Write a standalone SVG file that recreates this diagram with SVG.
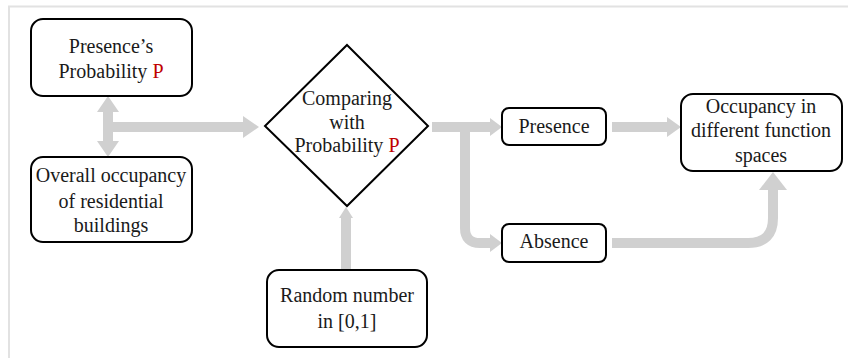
<svg xmlns="http://www.w3.org/2000/svg" width="848" height="358" viewBox="0 0 848 358">
<style>
.box{fill:#fff;stroke:#000;stroke-width:2}
.t{font-family:'Liberation Serif','Tinos','Times New Roman','DejaVu Serif',serif;font-size:20px;fill:#1a1a1a;text-anchor:middle}
.r{fill:#c00000}
.sh{fill:none;stroke:#d0d0d0;stroke-width:10}
.hd{fill:#d0d0d0}
</style>
<rect width="848" height="358" fill="#fff"/>
<path d="M9,358 V6.5 H848" fill="none" stroke="#e2e2e2" stroke-width="2"/>
<g id="connectors">
<path class="sh" d="M108,110 V143"/>
<polygon class="hd" points="108,96 97,112 119,112"/>
<polygon class="hd" points="108,157 97,141 119,141"/>
<path class="sh" d="M108,127 H244"/>
<polygon class="hd" points="259,127 243,116 243,138"/>
<path class="sh" d="M432,127 H492" stroke-width="9"/>
<polygon class="hd" points="502,127 490,118 490,136"/>
<path class="sh" d="M465,127 V228 Q465,243 480,243 H492"/>
<polygon class="hd" points="502,243 490,234 490,252"/>
<path class="sh" d="M612,127 H668"/>
<polygon class="hd" points="681,127 667,117 667,137"/>
<path class="sh" d="M612,243 H748 Q773,243 773,218 V189" stroke-width="12"/>
<polygon class="hd" points="773,172 759,190 787,190"/>
<path class="sh" d="M346,270 V217" stroke-width="8"/>
<polygon class="hd" points="346,207 339,218 353,218"/>
</g>
<g id="presence-probability">
<rect class="box" x="31" y="19" width="161" height="77" rx="12"/>
<text class="t" x="111" y="53" font-family="Liberation Serif, DejaVu Serif, serif">Presence’s</text>
<text class="t" x="111" y="78" font-family="Liberation Serif, DejaVu Serif, serif">Probability <tspan class="r">P</tspan></text>
</g>
<g id="overall-occupancy">
<rect class="box" x="31" y="157" width="161" height="85" rx="12"/>
<text class="t" x="111" y="182">Overall occupancy</text>
<text class="t" x="111" y="208">of residential</text>
<text class="t" x="111" y="232">buildings</text>
</g>
<g id="comparing">
<polygon class="box" points="347,45 428,126 347,206 265,126"/>
<text class="t" x="347" y="105">Comparing</text>
<text class="t" x="347" y="129">with</text>
<text class="t" x="347" y="152">Probability <tspan class="r">P</tspan></text>
</g>
<g id="random-number">
<rect class="box" x="267" y="270" width="160" height="77" rx="12"/>
<text class="t" x="347" y="302">Random number</text>
<text class="t" x="347" y="328">in [0,1]</text>
</g>
<g id="presence">
<rect class="box" x="502" y="108" width="104" height="37" rx="7"/>
<text class="t" x="554" y="133">Presence</text>
</g>
<g id="absence">
<rect class="box" x="502" y="224" width="104" height="38" rx="7"/>
<text class="t" x="554" y="248">Absence</text>
</g>
<g id="occupancy-spaces">
<rect class="box" x="681" y="94" width="161" height="77" rx="12"/>
<text class="t" x="761" y="113">Occupancy in</text>
<text class="t" x="761" y="137">different function</text>
<text class="t" x="761" y="162">spaces</text>
</g>
</svg>
